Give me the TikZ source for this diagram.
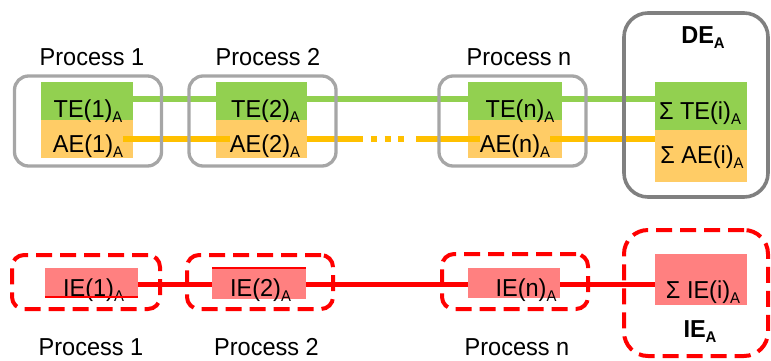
\documentclass[tikz,border=0pt]{standalone}
\usepackage{fontspec}
\setmainfont{Liberation Sans}[FakeStretch=0.96]
\definecolor{tegreen}{HTML}{92D050}
\definecolor{aeorange}{HTML}{FFCC66}
\definecolor{lineorange}{HTML}{FFC000}
\definecolor{iepink}{HTML}{FF8080}
\definecolor{iered}{HTML}{FF0000}
\definecolor{boxgray}{HTML}{A6A6A6}
\definecolor{degray}{HTML}{808080}
\newcommand\subA{\raisebox{-5pt}{\fontsize{15.5}{15.5}\selectfont A}}
\begin{document}
\begin{tikzpicture}[x=1pt,y=-1pt,
  txt/.style={anchor=base, inner sep=0pt, font=\fontsize{24.5}{27}\selectfont},
  btxt/.style={anchor=base, inner sep=0pt, font=\fontsize{24.5}{27}\selectfont\bfseries},
  cell/.style={inner sep=0pt, draw=none, rectangle},
  tecell/.style={cell, fill=tegreen},
  aecell/.style={cell, fill=aeorange},
  iecell/.style={cell, fill=iepink},
  procbox/.style={draw=boxgray, line width=3.3pt, rounded corners=14pt, rectangle, inner sep=0pt, fill=none},
  debox/.style={draw=degray, line width=3.6pt, rounded corners=24pt, rectangle, inner sep=0pt, fill=none},
  iebox/.style={draw=iered, line width=4pt, dash pattern=on 16pt off 8pt, rounded corners=12pt, rectangle, inner sep=0pt, fill=none},
  iebigbox/.style={iebox, rounded corners=24pt},
  gline/.style={draw=tegreen, line width=5.5pt},
  oline/.style={draw=lineorange, line width=6pt},
  rline/.style={draw=iered, line width=5pt},
  thinred/.style={draw=iered, line width=2pt}
]
\useasboundingbox (0,0) rectangle (771,360);

% coloured cells
\node[tecell, minimum width=92pt, minimum height=38pt] (te1r) at (87,101) {};
\node[aecell, minimum width=92pt, minimum height=38pt] (ae1r) at (87,139) {};
\node[tecell, minimum width=91pt, minimum height=38pt] (te2r) at (261.5,101) {};
\node[aecell, minimum width=91pt, minimum height=38pt] (ae2r) at (261.5,139) {};
\node[tecell, minimum width=94pt, minimum height=38pt] (tenr) at (515,101) {};
\node[aecell, minimum width=94pt, minimum height=38pt] (aenr) at (515,139) {};
\node[tecell, minimum width=92pt, minimum height=48pt] (teSr) at (701,106) {};
\node[aecell, minimum width=92pt, minimum height=52pt] (aeSr) at (701,156) {};
\node[iecell, minimum width=93pt, minimum height=29pt] (ie1r) at (91.5,282.5) {};
\node[iecell, minimum width=94pt, minimum height=31pt] (ie2r) at (259,283.5) {};
\node[iecell, minimum width=92pt, minimum height=30pt] (ienr) at (514,283) {};
\node[iecell, minimum width=92pt, minimum height=51pt] (ieSr) at (701,279.5) {};

% texts
\node[txt] (p1) at (92,65) {Process 1};
\node[txt] (p2) at (268,65) {Process 2};
\node[txt] (pn) at (519,65) {Process n};
\node[btxt] (de) at (703,43) {DE\subA};
\node[txt] (te1) at (88,117) {TE(1)\subA};
\node[txt] (te2) at (265.5,117) {TE(2)\subA};
\node[txt] (ten) at (520,117) {TE(n)\subA};
\node[txt] (teS) at (700,119) {Σ TE(i)\subA};
\node[txt] (ae1) at (88,152) {AE(1)\subA};
\node[txt] (ae2) at (265,152) {AE(2)\subA};
\node[txt] (aen) at (515,152) {AE(n)\subA};
\node[txt] (aeS) at (702,163) {Σ AE(i)\subA};
\node[txt] (ie1) at (93.5,296) {IE(1)\subA};
\node[txt] (ie2) at (260.5,296) {IE(2)\subA};
\node[txt] (ien) at (526,296) {IE(n)\subA};
\node[txt] (ieS) at (703,298) {Σ IE(i)\subA};
\node[btxt] (ie) at (700,337) {IE\subA};
\node[txt] (q1) at (91,355) {Process 1};
\node[txt] (q2) at (266.5,355) {Process 2};
\node[txt] (qn) at (517,355) {Process n};

% connectors
\coordinate (gy) at (0,99);
\coordinate (oy) at (0,139);
\coordinate (ry) at (0,284);
\coordinate (og1) at (363,139);
\coordinate (od1) at (371,139);
\coordinate (od2) at (404,139);
\coordinate (og2) at (416,139);
\draw[gline] (te1.east |- gy) -- (te2.west |- gy);
\draw[gline] (te2r.east |- gy) -- (ten.west |- gy);
\draw[gline] (tenr.east |- gy) -- (teSr.west |- gy);
\draw[oline] (ae1.east |- oy) -- (ae2.west |- oy);
\draw[oline] (ae2r.east |- oy) -- (og1);
\draw[oline, dash pattern=on 6pt off 7.5pt] (od1) -- (od2);
\draw[oline] (og2) -- (aen.west |- oy);
\draw[oline] (aen.east |- oy) -- (aeSr.west |- oy);
\draw[rline] (ie1r.east |- ry) -- (ie2r.west |- ry);
\draw[rline] (ie2r.east |- ry) -- (ienr.west |- ry);
\draw[rline] (ienr.east |- ry) -- (ieSr.west |- ry);
\draw[thinred] (ie1r.south west) -- (ie1r.south east);
\draw[thinred] (ie2r.north west) -- (ie2r.north east);

% frames
\node[procbox, minimum width=147pt, minimum height=90pt] (b1) at (88,121) {};
\node[procbox, minimum width=147pt, minimum height=90pt] (b2) at (262.5,121) {};
\node[procbox, minimum width=147pt, minimum height=90pt] (bn) at (512.5,121) {};
\node[debox, minimum width=144pt, minimum height=184pt] (bde) at (696,105) {};
\node[iebox, minimum width=148pt, minimum height=54pt] (d1) at (86,282) {};
\node[iebox, minimum width=146pt, minimum height=54pt] (d2) at (260,282) {};
\node[iebox, minimum width=146pt, minimum height=55pt] (dn) at (515,281.5) {};
\node[iebigbox, minimum width=144pt, minimum height=126pt] (die) at (696,293) {};
\end{tikzpicture}
\end{document}
